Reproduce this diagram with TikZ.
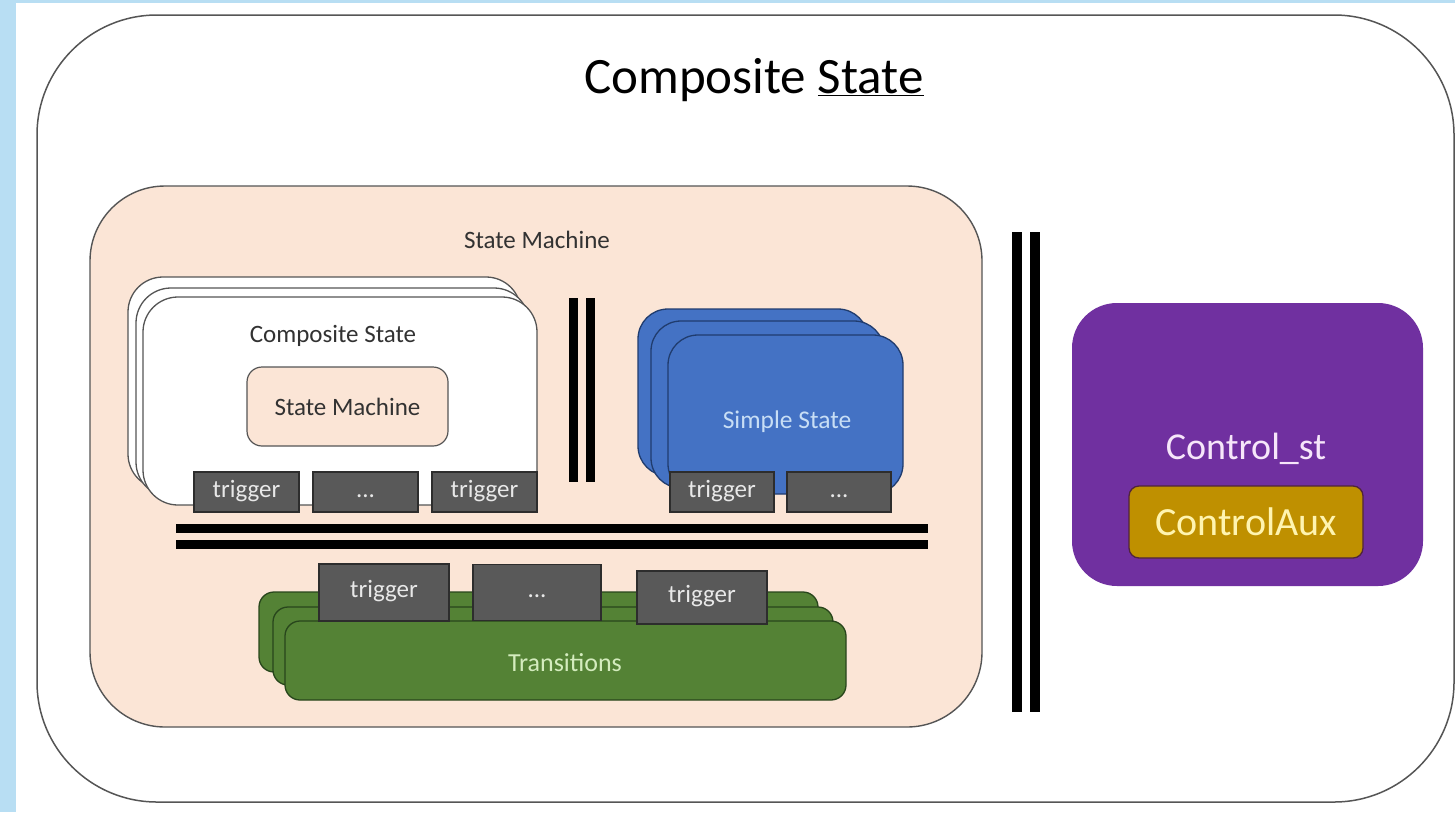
\documentclass[tikz,border=0pt]{standalone}
\usepackage{fontspec}
\setmainfont{Carlito}
\usepackage{tikz}
\usetikzlibrary{positioning}
\definecolor{skyedge}{RGB}{184,222,243}
\definecolor{framegray}{RGB}{85,85,85}
\definecolor{peach}{RGB}{251,229,214}
\definecolor{labelgray}{RGB}{50,50,50}
\definecolor{trigfill}{RGB}{89,89,89}
\definecolor{trigdraw}{RGB}{45,45,45}
\definecolor{trigtext}{RGB}{232,232,232}
\definecolor{ssblue}{RGB}{68,114,196}
\definecolor{ssdraw}{RGB}{32,60,110}
\definecolor{sstext}{RGB}{200,222,245}
\definecolor{trgreen}{RGB}{84,130,53}
\definecolor{trdraw}{RGB}{40,70,28}
\definecolor{trtext}{RGB}{212,236,190}
\definecolor{ctpurple}{RGB}{112,48,160}
\definecolor{cttext}{RGB}{246,230,250}
\definecolor{auxgold}{RGB}{191,144,0}
\definecolor{auxdraw}{RGB}{80,36,60}
\definecolor{auxtext}{RGB}{255,244,176}
\tikzset{
  sz/.style 2 args={minimum width=#1, minimum height=#2},
  outerbox/.style={draw=framegray, line width=1.5pt, fill=white, rounded corners=120pt, inner sep=0pt},
  machinebox/.style={draw=framegray, line width=1.4pt, fill=peach, rounded corners=75pt, inner sep=0pt},
  compbox/.style={draw=framegray, line width=1.3pt, fill=white, rounded corners=35pt, inner sep=0pt},
  innerbox/.style={draw=framegray, line width=1.2pt, fill=peach, rounded corners=15pt, inner sep=0pt},
  simplebox/.style={draw=ssdraw, line width=1.3pt, fill=ssblue, rounded corners=30pt, inner sep=0pt},
  transbox/.style={draw=trdraw, line width=1.3pt, fill=trgreen, rounded corners=15pt, inner sep=0pt},
  trig/.style={draw=trigdraw, line width=1.3pt, fill=trigfill, text=trigtext, inner sep=0pt,
               text height=16pt, text depth=6pt, font=\fontsize{25}{30}\selectfont},
  ctrlbox/.style={fill=ctpurple, rounded corners=45pt, inner sep=0pt},
  auxbox/.style={draw=auxdraw, line width=1.3pt, fill=auxgold, rounded corners=10pt, inner sep=0pt,
                 text=auxtext, font=\fontsize{40}{46}\selectfont},
  lbl/.style={text=labelgray, inner sep=0pt, font=\fontsize{25}{30}\selectfont},
  bar/.style={line width=9pt, black},
}
\begin{document}
\begin{tikzpicture}[x=1pt, y=-1pt]
  \useasboundingbox (0,0) rectangle (1455,812);
  % backdrop
  \fill[skyedge] (0,0) rectangle (1455,812);
  \fill[white] (16,3) rectangle (1455,812);

  % outer composite state
  \node[outerbox, sz={1417pt}{787pt}] (outer) at (745.5,408.5) {};
  \node[inner sep=0pt, font=\fontsize{51}{60}\selectfont] (title) at (754,80) {Composite \underline{State}};

  % state machine region
  \node[machinebox, sz={892pt}{541pt}] (sm) at (536,456.5) {};
  \node[lbl] (smname) at (537,240) {State Machine};

  % stack of composite states
  \foreach \n/\x/\y/\w/\h in {csback/324.5/383/393/212, csmid/332.5/392.5/393/209, csfront/340/401/394/208}
    \node[compbox, sz={\w pt}{\h pt}] (\n) at (\x,\y) {};
  \node[lbl] (csname) at (333,336) {Composite State};
  \node[innerbox, sz={201pt}{79pt}] (innersm) at (347.5,406.5) {};
  \node[lbl] at (innersm) {State Machine};
  \node[trig, sz={105pt}{40pt}] (cst1) at (246.5,492) {trigger};
  \node[trig, sz={105pt}{40pt}, right=12.7pt of cst1] (cst2) {...};
  \node[trig, sz={105pt}{40pt}, right=12.7pt of cst2] (cst3) {trigger};

  % parallel bars between the regions
  \draw[bar] (573,298) -- (573,482);
  \draw[bar] (590.5,298) -- (590.5,482);

  % stack of simple states
  \foreach \n/\x/\y/\w/\h in {ssback/753/392.5/230/167, ssmid/767.5/404.5/233/167, ssfront/785.5/414.5/235/159}
    \node[simplebox, sz={\w pt}{\h pt}] (\n) at (\x,\y) {};
  \node[lbl, text=sstext, font=\fontsize{25.5}{30}\selectfont] (ssname) at (787,422) {Simple State};
  \node[trig, sz={104pt}{40pt}] (sst1) at (722,492) {trigger};
  \node[trig, sz={104pt}{40pt}, right=11.7pt of sst1] (sst2) {...};

  \draw[bar] (176,528.5) -- (928,528.5);
  \draw[bar] (176,544.5) -- (928,544.5);

  % stack of transitions
  \foreach \n/\x/\y/\w/\h in {trback/538.5/632/559/80, trmid/553/646/560/78, trfront/565.5/660.5/561/79}
    \node[transbox, sz={\w pt}{\h pt}] (\n) at (\x,\y) {};
  \node[lbl, text=trtext, font=\fontsize{26}{30}\selectfont] (trname) at (565,663) {Transitions};
  \node[trig, sz={130pt}{57pt}] (trt1) at (384,592.5) {trigger};
  \node[trig, sz={128pt}{56pt}, right=22.7pt of trt1] (trt2) {...};
  \node[trig, sz={130pt}{53pt}] (trt3) at (702,597.5) {trigger};

  % bars before the control state
  \draw[line width=10pt] (1017,232) -- (1017,712);
  \draw[line width=10pt] (1035,232) -- (1035,712);

  % control state
  \node[ctrlbox, sz={351pt}{283pt}] (ctrl) at (1247.5,444.5) {};
  \node[inner sep=0pt, text=cttext, font=\fontsize{38}{44}\selectfont] (ctrlname) at (1246,449) {Control\_st};
  \node[auxbox, sz={234pt}{72pt}] (aux) at (1246,522) {ControlAux};
\end{tikzpicture}
\end{document}
